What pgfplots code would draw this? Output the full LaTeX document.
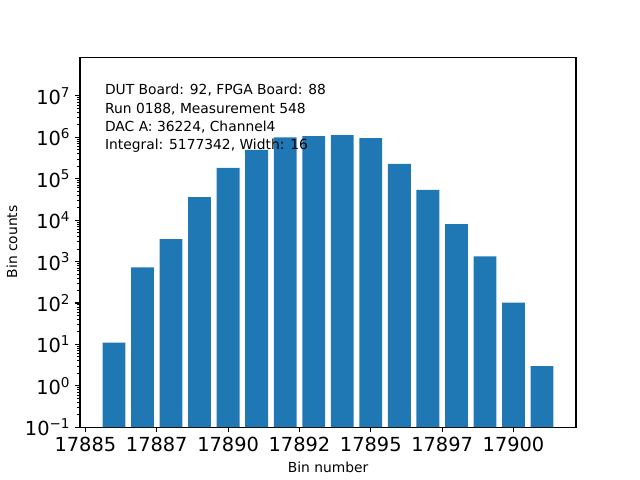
\documentclass[border=0pt]{standalone}
\usepackage{pgfplots}
\pgfplotsset{compat=1.18}
\usepackage{fontspec}
\setmainfont{DejaVu Sans}
\definecolor{mplblue}{HTML}{1F77B4}
\begin{document}
\begin{tikzpicture}
\useasboundingbox (0,0) rectangle (460.8bp,345.6bp);
\begin{axis}[
  at={(57.6bp,38.02bp)}, anchor=south west,
  scale only axis, width=357.12bp, height=266.11bp,
  ymode=log, log origin=infty,
  xmin=17884.81, xmax=17902.19,
  ymin=0.1, ymax=8.4e7,
  ybar, bar width=0.8, bar shift=0pt,
  scaled x ticks=false,
  xtick={17885,17887.5,17890,17892.5,17895,17897.5,17900},
  xticklabels={17885,17887,17890,17892,17895,17897,17900},
  ytick={1e-1,1e0,1e1,1e2,1e3,1e4,1e5,1e6,1e7},
  yticklabels={10\textsuperscript{−1},10\textsuperscript{0},10\textsuperscript{1},10\textsuperscript{2},10\textsuperscript{3},10\textsuperscript{4},10\textsuperscript{5},10\textsuperscript{6},10\textsuperscript{7}},
  tick label style={font=\fontsize{14}{16}\selectfont},
  tick align=outside, xtick pos=left, ytick pos=left,
  major tick length=3.5bp, minor tick length=2bp,
  every tick/.style={black, line width=0.8bp},
  minor tick style={line width=0.6bp},
  axis line style={line width=0.8bp},
  xminorticks=false,
  clip=true,
]
\addplot[fill=mplblue, draw=none] coordinates {
(17886,11) (17887,723) (17888,3460) (17889,36100) (17890,183000)
(17891,500000) (17892,1.0e6) (17893,1.07e6) (17894,1.13e6) (17895,9.6e5)
(17896,2.29e5) (17897,5.35e4) (17898,8000) (17899,1340) (17900,102) (17901,3)
};
\node[anchor=north west, align=left, inner sep=0pt, font=\fontsize{10}{13.2}\selectfont]
  at (rel axis cs:0.05,0.928) {DUT Board: 92, FPGA Board: 88\\Run 0188, Measurement 548\\DAC A: 36224, Channel4\\Integral: 5177342, Width: 16};
\end{axis}
\node[font=\fontsize{10}{12}\selectfont] at (236.2bp,9.4bp) {Bin number};
\node[font=\fontsize{10}{12}\selectfont, rotate=90] at (8.6bp,171.4bp) {Bin counts};
\end{tikzpicture}
\end{document}
